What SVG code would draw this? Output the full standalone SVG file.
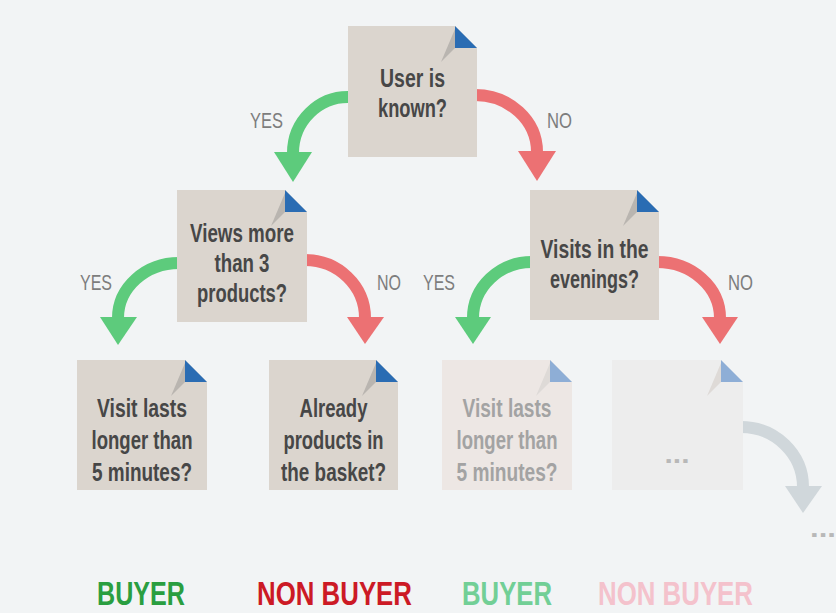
<svg xmlns="http://www.w3.org/2000/svg" width="836" height="613" viewBox="0 0 836 613">
<style>
.box{fill:#dbd5ce}
.boxf{fill:#ede7e4}
.boxg{fill:#ededed}
.blue{fill:#2a6cb3}
.bluef{fill:#8eaed6}
.fold{fill:#b9b5b0}
.foldf{fill:#dedad7}
.t{font-family:"Liberation Sans",Arial,sans-serif;font-weight:bold;font-size:25px;fill:#474747;text-anchor:middle}
.tf{fill:#a3a3a3}
.lbl{font-family:"Liberation Sans",Arial,sans-serif;font-size:22px;fill:#7d7d7d}
.big{font-family:"Liberation Sans",Arial,sans-serif;font-weight:bold;font-size:33px}
.g{fill:none;stroke:#5dcb7c;stroke-width:12}
.r{fill:none;stroke:#ec7173;stroke-width:12}
.gr{fill:none;stroke:#d0d7db;stroke-width:12}
</style>
<rect width="836" height="613" fill="#f2f4f5"/>
<g id="connectors">
<path class="g" d="M350,97 A55,56 0 0 0 293,153"/>
<polygon points="274,152 312,152 293,182" fill="#5dcb7c"/>
<path class="r" d="M475,95 A62,57 0 0 1 537,152"/>
<polygon points="518,151 556,151 537,181" fill="#ec7173"/>
<path class="g" d="M179,263 A61,55 0 0 0 118,318"/>
<polygon points="100,317 137,317 118,345" fill="#5dcb7c"/>
<path class="r" d="M305,260 A60,58 0 0 1 365,318"/>
<polygon points="347,317 384,317 365,344" fill="#ec7173"/>
<path class="g" d="M532,262 A59,56 0 0 0 473,318"/>
<polygon points="455,317 491,317 473,344" fill="#5dcb7c"/>
<path class="r" d="M657,262 A63,56 0 0 1 720,318"/>
<polygon points="702,317 738,317 720,344" fill="#ec7173"/>
<path class="gr" d="M741,427 A62,60 0 0 1 803,487"/>
<polygon points="785,486 822,486 803,513" fill="#d0d7db"/>
<text class="lbl" x="250" y="128" textLength="33" lengthAdjust="spacingAndGlyphs">YES</text>
<text class="lbl" x="547" y="128" textLength="25" lengthAdjust="spacingAndGlyphs">NO</text>
<text class="lbl" x="80" y="290" textLength="32" lengthAdjust="spacingAndGlyphs">YES</text>
<text class="lbl" x="377" y="290" textLength="24" lengthAdjust="spacingAndGlyphs">NO</text>
<text class="lbl" x="423" y="290" textLength="32" lengthAdjust="spacingAndGlyphs">YES</text>
<text class="lbl" x="728" y="290" textLength="25" lengthAdjust="spacingAndGlyphs">NO</text>
</g>
<g id="n1">
<polygon class="box" points="348,26 455,26 477,48 477,157 348,157"/>
<polygon class="fold" points="455,29 455,48 441,62"/>
<polygon class="blue" points="455,26 455,48 477,48"/>
<text class="t" x="412.5" y="87" textLength="65" lengthAdjust="spacingAndGlyphs">User is</text>
<text class="t" x="412.5" y="117" textLength="69" lengthAdjust="spacingAndGlyphs">known?</text>
</g>
<g id="n2">
<polygon class="box" points="177,190 285,190 307,212 307,322 177,322"/>
<polygon class="fold" points="285,193 285,212 271,226"/>
<polygon class="blue" points="285,190 285,212 307,212"/>
<text class="t" x="242" y="242" textLength="104" lengthAdjust="spacingAndGlyphs">Views more</text>
<text class="t" x="242" y="272" textLength="55" lengthAdjust="spacingAndGlyphs">than 3</text>
<text class="t" x="242" y="302" textLength="90" lengthAdjust="spacingAndGlyphs">products?</text>
</g>
<g id="n3">
<polygon class="box" points="530,190 637,190 659,212 659,320 530,320"/>
<polygon class="fold" points="637,193 637,212 623,226"/>
<polygon class="blue" points="637,190 637,212 659,212"/>
<text class="t" x="594.5" y="258" textLength="108" lengthAdjust="spacingAndGlyphs">Visits in the</text>
<text class="t" x="594.5" y="288" textLength="89" lengthAdjust="spacingAndGlyphs">evenings?</text>
</g>
<g id="n4">
<polygon class="box" points="77,360 185,360 207,382 207,490 77,490"/>
<polygon class="fold" points="185,363 185,382 171,396"/>
<polygon class="blue" points="185,360 185,382 207,382"/>
<text class="t" x="142" y="417" textLength="90" lengthAdjust="spacingAndGlyphs">Visit lasts</text>
<text class="t" x="142" y="449" textLength="101" lengthAdjust="spacingAndGlyphs">longer than</text>
<text class="t" x="142" y="481" textLength="100" lengthAdjust="spacingAndGlyphs">5 minutes?</text>
</g>
<g id="n5">
<polygon class="box" points="269,360 376,360 398,382 398,490 269,490"/>
<polygon class="fold" points="376,363 376,382 362,396"/>
<polygon class="blue" points="376,360 376,382 398,382"/>
<text class="t" x="333.5" y="417" textLength="68" lengthAdjust="spacingAndGlyphs">Already</text>
<text class="t" x="333.5" y="449" textLength="100" lengthAdjust="spacingAndGlyphs">products in</text>
<text class="t" x="333.5" y="481" textLength="105" lengthAdjust="spacingAndGlyphs">the basket?</text>
</g>
<g id="n6">
<polygon class="boxf" points="442,360 550,360 572,382 572,490 442,490"/>
<polygon class="foldf" points="550,363 550,382 536,396"/>
<polygon class="bluef" points="550,360 550,382 572,382"/>
<text class="t tf" x="507" y="417" textLength="89" lengthAdjust="spacingAndGlyphs">Visit lasts</text>
<text class="t tf" x="507" y="449" textLength="101" lengthAdjust="spacingAndGlyphs">longer than</text>
<text class="t tf" x="507" y="481" textLength="101" lengthAdjust="spacingAndGlyphs">5 minutes?</text>
</g>
<g id="n7">
<polygon class="boxg" points="612,360 721,360 743,382 743,490 612,490"/>
<polygon class="foldf" points="721,363 721,382 707,396"/>
<polygon class="bluef" points="721,360 721,382 743,382"/>
<text class="t" x="677" y="463" style="fill:#b8b8b8" textLength="25" lengthAdjust="spacingAndGlyphs">...</text>
</g>
<g id="more">
<text class="t" x="823" y="537" style="fill:#b8b8b8" textLength="26" lengthAdjust="spacingAndGlyphs">...</text>
</g>
<g id="outcomes">
<text class="big" x="97" y="605" fill="#2a9e40" textLength="88" lengthAdjust="spacingAndGlyphs">BUYER</text>
<text class="big" x="257" y="605" fill="#cc1a25" textLength="155" lengthAdjust="spacingAndGlyphs">NON BUYER</text>
<text class="big" x="462" y="605" fill="#72cf96" textLength="90" lengthAdjust="spacingAndGlyphs">BUYER</text>
<text class="big" x="598" y="605" fill="#f4c2cc" textLength="155" lengthAdjust="spacingAndGlyphs">NON BUYER</text>
</g>
</svg>
